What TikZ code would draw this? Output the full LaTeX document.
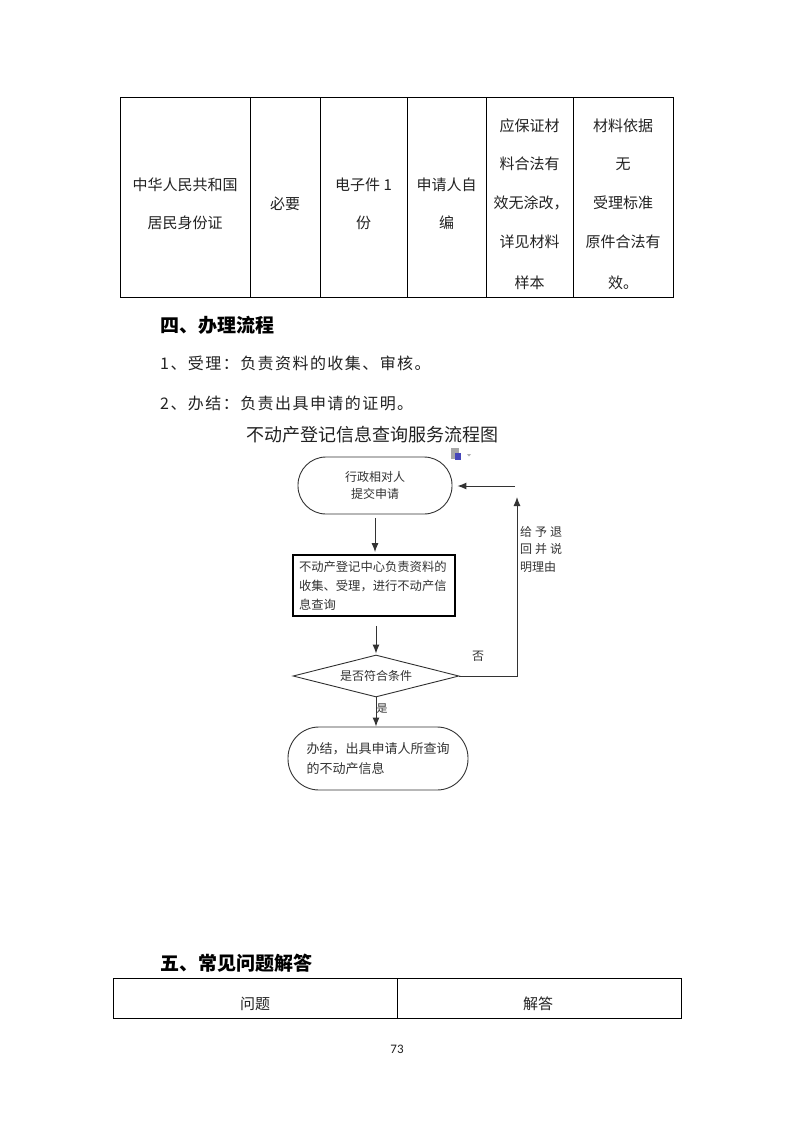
\documentclass[tikz,border=0pt]{standalone}
\usepackage{fontspec}
\setmainfont{Noto Sans CJK SC}
\newfontfamily\numfont{Carlito}
\usetikzlibrary{shapes.geometric,arrows.meta}
\definecolor{ink}{HTML}{222222}
\definecolor{fline}{HTML}{333333}
\tikzset{
  cell/.style={font=\fontsize{15}{15}\selectfont, text=ink, inner sep=0pt},
  body/.style={font=\fontsize{16}{16}\selectfont\addfontfeatures{LetterSpace=9}, text=ink, anchor=west, inner sep=0pt},
  head/.style={font=\fontsize{19}{19}\selectfont\bfseries, text=black, anchor=west, inner sep=0pt},
  ftext/.style={font=\fontsize{12}{17.5}\selectfont, text=fline},
  stadium/.style={draw=fline, line width=0.9pt, rectangle, align=center, ftext},
  procbox/.style={draw=black, line width=1.8pt, rectangle, align=left, font=\fontsize{12.3}{19}\selectfont, text=fline, inner sep=0pt},
  decision/.style={draw=fline, line width=0.9pt, diamond, aspect=4, inner sep=0pt, ftext},
  flow/.style={draw=fline, fill=none, line width=1pt, -{Latex[length=9pt,width=7pt,fill=fline]}},
  tline/.style={draw=black, line width=0.9pt}
}
\begin{document}
\begin{tikzpicture}[x=1pt,y=-1pt]
\useasboundingbox[fill=white] (0,0) rectangle (793,1122);

% ---------- top table ----------
\draw[tline] (120,97) rectangle (673,297);
\foreach \xx in {250,320,407,486,573} \draw[tline] (\xx,97) -- (\xx,297);
\node[cell] (t11) at (185,185) {中华人民共和国};
\node[cell] (t12) at (185,223) {居民身份证};
\node[cell] (t2) at (285,204) {必要};
\node[cell] (t31) at (363.5,185) {电子件 1};
\node[cell] (t32) at (363.5,223) {份};
\node[cell] (t41) at (446.5,185) {申请人自};
\node[cell] (t42) at (446.5,223) {编};
\node[cell] (t51) at (529.5,126) {应保证材};
\node[cell] (t52) at (529.5,164) {料合法有};
\node[cell] (t53) at (531,203) {效无涂改，};
\node[cell] (t54) at (529.5,242) {详见材料};
\node[cell] (t55) at (529.5,283) {样本};
\node[cell] (t61) at (623,126) {材料依据};
\node[cell] (t62) at (623,164) {无};
\node[cell] (t63) at (623,203) {受理标准};
\node[cell] (t64) at (623,242) {原件合法有};
\node[cell] (t65) at (623,283) {效。};

% ---------- section 4 ----------
\node[head] (h4) at (160,325) {四、办理流程};
\node[body] (l1) at (160,363) {1、受理：负责资料的收集、审核。};
\node[body] (l2) at (160,403) {2、办结：负责出具申请的证明。};

% ---------- flowchart ----------
\node[font=\fontsize{18}{18}\selectfont, text=ink, inner sep=0pt] (ftitle) at (372,435) {不动产登记信息查询服务流程图};

% small paste icon
\fill[gray!70] (451,448) rectangle (459,459);
\fill[blue!45!gray] (455,453) rectangle (461,460);
\fill[gray!60] (467,454) -- (471,454) -- (469,456.5) -- cycle;

\node[stadium, minimum width=154pt, minimum height=57pt, rounded corners=28pt] (start) at (375,485.5) {行政相对人\\提交申请};
\node[procbox, minimum width=162pt, minimum height=61pt, text width=150pt] (proc) at (374,585.5)
  {不动产登记中心负责资料的\\收集、受理，进行不动产信\\息查询};
\node[decision, minimum width=166pt, minimum height=42pt] (dec) at (376,676) {是否符合条件};
\node[stadium, minimum width=180pt, minimum height=63pt, rounded corners=31pt, align=left,
  font=\fontsize{13}{20}\selectfont] (finish) at (378,758.5)
  {办结，出具申请人所查询\\的不动产信息\phantom{所查询}};

\draw[flow, shorten <=4pt, shorten >=2pt] (start.south) -- (start.south |- proc.north);
\draw[flow, shorten <=9pt, shorten >=1pt] (proc.south -| dec.north) -- (dec.north);
\draw[flow] (dec.south) -- (dec.south |- finish.north);

\coordinate (turn) at (517,676);
\coordinate (ret) at (517,497);
\coordinate (rin) at (515,486);
\draw[flow] (dec.east) -- (turn) -- (ret);
\draw[flow, shorten >=5pt] (rin) -- (start.east |- rin);

\node[ftext, anchor=north west, align=left, inner sep=0pt] (reason) at (520,526)
  {\addfontfeatures{LetterSpace=25}给予退\\\addfontfeatures{LetterSpace=25}回并说\\明理由};
\node[ftext, inner sep=0pt] (no) at (478,656) {否};
\node[ftext, font=\fontsize{11}{11}\selectfont, inner sep=0pt] (yes) at (382,709) {是};

% ---------- section 5 ----------
\node[head] (h5) at (160,963) {五、常见问题解答};
\draw[tline] (113,978) rectangle (681,1018);
\draw[tline] (397,978) -- (397,1018);
\node[cell] (q) at (255,1004) {问题};
\node[cell] (a) at (538,1004) {解答};

\node[font=\numfont\fontsize{13}{13}\selectfont, text=ink, inner sep=0pt] (page) at (397,1049) {73};
\end{tikzpicture}
\end{document}
